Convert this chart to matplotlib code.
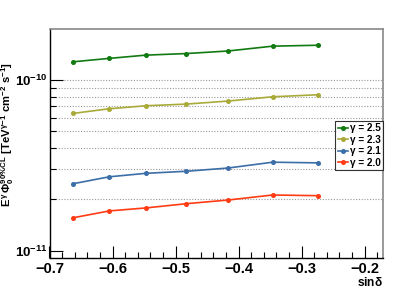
import matplotlib
matplotlib.use("Agg")
import matplotlib.pyplot as plt
from matplotlib.ticker import MultipleLocator, FixedLocator, NullFormatter

plt.rcParams['mathtext.fontset'] = 'custom'
plt.rcParams['mathtext.rm'] = 'Liberation Sans:bold'
plt.rcParams['mathtext.it'] = 'Liberation Sans:bold'
plt.rcParams['mathtext.bf'] = 'Liberation Sans:bold'
plt.rcParams['font.family'] = ['Liberation Sans', 'DejaVu Sans']
plt.rcParams['font.weight'] = 'bold'

sin_dec = [-0.662, -0.605, -0.547, -0.483, -0.417, -0.346, -0.274]
flux_25 = [1.28e-10, 1.34e-10, 1.40e-10, 1.43e-10, 1.48e-10, 1.58e-10, 1.60e-10]
flux_23 = [6.38e-11, 6.79e-11, 7.07e-11, 7.23e-11, 7.53e-11, 7.98e-11, 8.20e-11]
flux_21 = [2.47e-11, 2.71e-11, 2.84e-11, 2.92e-11, 3.05e-11, 3.30e-11, 3.27e-11]
flux_20 = [1.56e-11, 1.71e-11, 1.78e-11, 1.885e-11, 1.98e-11, 2.12e-11, 2.10e-11]
labels = ['γ = 2.5', 'γ = 2.3', 'γ = 2.1', 'γ = 2.0']
colors = ['#117a11', '#aaaa3a', '#3c6ea8', '#ff3c14']

fig = plt.figure(figsize=(3.99, 2.88), dpi=100)
ax = fig.add_axes([49.5/399, 1 - 258.3/288, (383 - 49.5)/399, (258.3 - 28.7)/288])

for y, lab, c in zip([flux_25, flux_23, flux_21, flux_20], labels, colors):
    ax.plot(sin_dec, y, '-o', color=c, lw=1.2, ms=2.6, label=lab)

ax.set_yscale('log')
ax.set_xlim(-0.7, -0.171)
ax.set_ylim(9.02e-12, 2.0e-10)

grid_vals = [k * 1e-11 for k in range(2, 10)] + [1e-10]
for g in grid_vals:
    ax.axhline(g, color='#999999', lw=0.8, ls=(0, (1, 1.5)), zorder=0)

ax.yaxis.set_major_locator(FixedLocator([1e-11, 1e-10]))
ax.yaxis.set_minor_locator(FixedLocator([k * 1e-11 for k in range(2, 10)]))
ax.yaxis.set_minor_formatter(NullFormatter())
ax.xaxis.set_major_locator(MultipleLocator(0.1))
ax.xaxis.set_minor_locator(MultipleLocator(0.02))
ax.xaxis.set_major_formatter(matplotlib.ticker.FuncFormatter(lambda v, p: ('\u2212%.1f' % abs(v)) if v < 0 else '%.1f' % v))

ax.tick_params(axis='both', which='major', direction='in', length=9, width=0.8, labelsize=10.5, pad=2.5)
ax.tick_params(axis='y', which='major', labelsize=9.6, pad=1.5)
ax.tick_params(axis='both', which='minor', direction='in', length=4.5, width=0.8)
ax.tick_params(top=False, right=False, which='both')
for s in ['top', 'right']:
    ax.spines[s].set_color('#888888')
    ax.spines[s].set_linewidth(1.2)
for s in ['left', 'bottom']:
    ax.spines[s].set_linewidth(1.0)

ax.set_xlabel(r'sin$\delta$', fontsize=8.6, fontweight='bold')
ax.xaxis.set_label_coords(1.0, -(285.5 - 258.3) / 229.6)
ax.xaxis.label.set_horizontalalignment('right')
ax.xaxis.label.set_verticalalignment('baseline')
ax.set_ylabel(r'$E^{\gamma}\,\Phi_{0}^{90\%CL}$ [TeV$^{\gamma\!-\!1}$ cm$^{-2}$ s$^{-1}$]',
              fontsize=8.1, fontweight='bold')
ax.yaxis.set_label_coords(-0.125, 0.54)
ax.yaxis.label.set_verticalalignment('center')

leg = ax.legend(loc='upper left', bbox_to_anchor=((335.3 - 49.5) / 333.5, 1 - (120.7 - 28.7) / 229.6),
                fontsize=7.2, frameon=True, fancybox=False, edgecolor='black',
                handlelength=1.0, handletextpad=0.2, borderpad=0.25, labelspacing=0.15,
                borderaxespad=0)
leg.get_frame().set_linewidth(0.8)
for t in leg.get_texts():
    t.set_fontweight('bold')

fig.savefig('out.png', dpi=100)
